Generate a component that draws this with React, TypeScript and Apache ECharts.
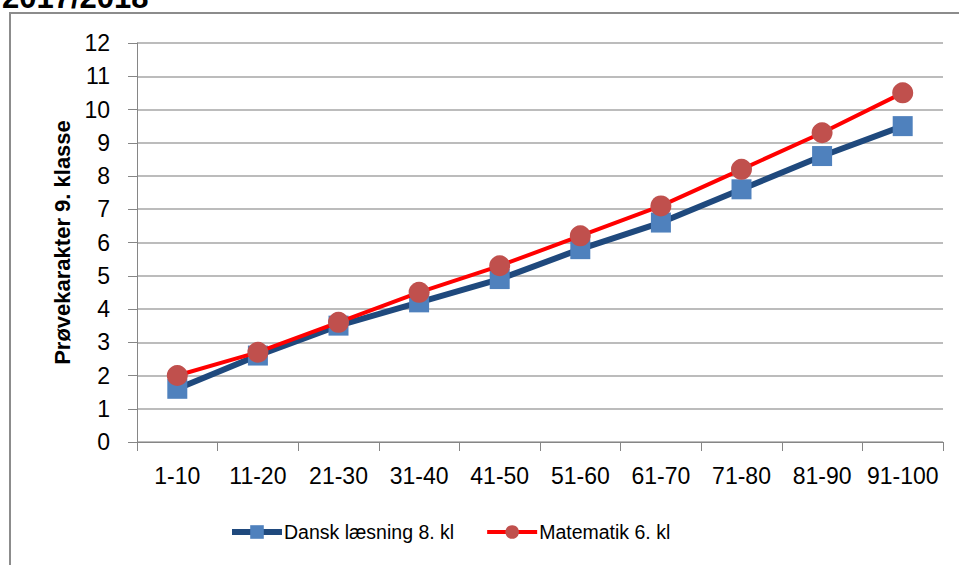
import React, { useEffect, useRef } from "react";
import * as echarts from "echarts";

const categories = ["1-10", "11-20", "21-30", "31-40", "41-50", "51-60", "61-70", "71-80", "81-90", "91-100"];
const danskValues = [1.6, 2.6, 3.5, 4.2, 4.9, 5.8, 6.6, 7.6, 8.6, 9.5];
const matValues = [2.0, 2.7, 3.6, 4.5, 5.3, 6.2, 7.1, 8.2, 9.3, 10.5];
const seriesNames = ["Dansk læsning 8. kl", "Matematik 6. kl"];
const yAxisTitle = "Prøvekarakter 9. klasse";
const topTitle = "2017/2018";

const FONT = "'Liberation Sans', 'Open Sans', sans-serif";

export default function App() {
  const ref = useRef<HTMLDivElement>(null);
  useEffect(() => {
    if (!ref.current) return;
    const chart = echarts.init(ref.current, null, { renderer: "svg" });
    chart.setOption({
      animation: false,
      backgroundColor: "#ffffff",
      textStyle: { fontFamily: FONT },
      graphic: [
        {
          type: "rect",
          shape: { x: 10, y: 13, width: 1000, height: 700 },
          style: { fill: "none", stroke: "#8c8c8c", lineWidth: 2 },
          z: 0,
        },
        {
          type: "text",
          x: 2,
          y: -18,
          style: { text: topTitle, font: `bold 31px ${FONT}`, fill: "#000" },
        },
      ],
      grid: { left: 137, right: 16, top: 43, bottom: 123, containLabel: false },
      legend: {
        bottom: 18,
        left: 224,
        itemWidth: 50,
        itemHeight: 17,
        itemGap: 31,
        textStyle: { fontSize: 19.5, color: "#000", fontFamily: FONT, padding: [0, 0, 0, -3] },
        data: [
          { name: seriesNames[0], lineStyle: { width: 6, color: "#1F497D" }, itemStyle: { color: "#4F81BD" } },
          { name: seriesNames[1], lineStyle: { width: 4, color: "#FF0000" }, itemStyle: { color: "#C0504D" } },
        ],
      },
      xAxis: {
        type: "category",
        data: categories,
        boundaryGap: true,
        axisLine: { lineStyle: { color: "#868686", width: 1 } },
        axisTick: { show: true, length: 9, alignWithLabel: false, interval: 0, lineStyle: { color: "#868686" } },
        axisLabel: { fontSize: 23, color: "#000", margin: 22, interval: 0, hideOverlap: false, fontFamily: FONT },
        splitLine: { show: false },
      },
      yAxis: {
        type: "value",
        min: 0,
        max: 12,
        interval: 1,
        name: yAxisTitle,
        nameLocation: "middle",
        nameGap: 64,
        nameRotate: 90,
        nameTextStyle: { fontSize: 22, fontWeight: "bold", color: "#000", fontFamily: FONT },
        axisLine: { show: true, lineStyle: { color: "#868686" } },
        axisTick: { show: true, length: 9, lineStyle: { color: "#868686" } },
        axisLabel: { fontSize: 23, color: "#000", margin: 27, fontFamily: FONT },
        splitLine: { show: true, lineStyle: { color: "#a6a6a6", width: 1.5 } },
      },
      series: [
        {
          name: seriesNames[0],
          type: "line",
          data: danskValues,
          symbol: "rect",
          symbolSize: 20,
          itemStyle: { color: "#4F81BD" },
          lineStyle: { color: "#1F497D", width: 6 },
          z: 2,
        },
        {
          name: seriesNames[1],
          type: "line",
          data: matValues,
          symbol: "circle",
          symbolSize: 21,
          itemStyle: { color: "#C0504D" },
          lineStyle: { color: "#FF0000", width: 4 },
          z: 3,
        },
      ],
    });
    return () => chart.dispose();
  }, []);
  return (
    <div
      ref={ref}
      style={{ position: "fixed", left: 0, top: 0, width: 959, height: 565 }}
    />
  );
}
